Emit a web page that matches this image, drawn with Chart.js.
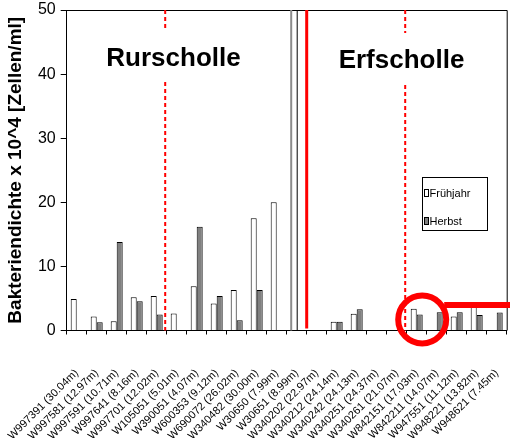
<!DOCTYPE html>
<html>
<head>
<meta charset="utf-8">
<script src="https://cdn.jsdelivr.net/npm/chart.js@4/dist/chart.umd.min.js"></script>
<style>
html,body{margin:0;padding:0;background:#fff;}
#wrap{width:510px;height:438px;position:relative;}
</style>
</head>
<body>
<div id="wrap"><canvas id="c" width="510" height="438"></canvas></div>
<script>
const categories = ["W997391 (30.04m)", "W997581 (12.97m)", "W997591 (10.71m)", "W997641 (8.16m)", "W997701 (12.02m)", "W105051 (5.01m)", "W390051 (4.07m)", "W600353 (9.12m)", "W690072 (26.02m)", "W340482 (30.00m)", "W30650 (7.99m)", "W30651 (8.99m)", "W340202 (22.97m)", "W340212 (24.14m)", "W340242 (24.13m)", "W340251 (24.37m)", "W340261 (21.07m)", "W842151 (17.03m)", "W842211 (14.07m)", "W947551 (11.12m)", "W948221 (13.82m)", "W948621 (7.45m)"];
const fruehjahr = [4.9, 2.2, 1.45, 5.2, 5.4, 2.65, 6.9, 4.2, 6.3, 17.5, 20.0, null, null, 1.35, 2.6, null, null, 3.4, null, 2.2, 3.8, null];
const herbst = [null, 1.3, 13.8, 4.55, 2.5, null, 16.2, 5.4, 1.6, 6.3, null, null, null, 1.35, 3.3, null, null, 2.5, 2.85, 2.85, 2.4, 2.8];
const yTicks = [0, 10, 20, 30, 40, 50];
const regionLabels = ["Rurscholle", "Erfscholle"];
const seriesNames = ["Frühjahr", "Herbst"];

const SANS = "'Liberation Sans', Arial, sans-serif";

const overlay = {
  id: 'overlay',
  afterDatasetsDraw(chart) {
    const ctx = chart.ctx;
    const a = chart.chartArea;
    const x = chart.scales.x;
    const cw = x.getPixelForValue(1) - x.getPixelForValue(0);
    const bound = i => x.getPixelForValue(i) - cw / 2;
    ctx.save();
    ctx.strokeStyle = '#000'; ctx.lineWidth = 1;
    ctx.beginPath();
    ctx.moveTo(a.left, a.top + 0.5); ctx.lineTo(a.right + 0.5, a.top + 0.5);
    ctx.lineTo(a.right + 0.5, a.bottom);
    ctx.stroke();
    ctx.strokeStyle = '#8c8c8c'; ctx.lineWidth = 2;
    ctx.beginPath(); ctx.moveTo(bound(11) + 4.5, a.top); ctx.lineTo(bound(11) + 4.5, a.bottom); ctx.stroke();
    ctx.strokeStyle = '#000'; ctx.lineWidth = 1;
    ctx.beginPath(); ctx.moveTo(bound(11) + 10.5, a.top); ctx.lineTo(bound(11) + 10.5, a.bottom); ctx.stroke();
    ctx.strokeStyle = '#ff0000'; ctx.lineWidth = 3;
    ctx.beginPath(); ctx.moveTo(bound(12), a.top); ctx.lineTo(bound(12), a.bottom - 2); ctx.stroke();
    ctx.lineWidth = 2; ctx.setLineDash([4, 3]);
    const dash = (xx, g1, g2) => {
      ctx.beginPath(); ctx.moveTo(xx, a.top); ctx.lineTo(xx, g1);
      ctx.moveTo(xx, g2); ctx.lineTo(xx, a.bottom); ctx.stroke();
    };
    dash(bound(5) - 1.5, 31, 82);
    dash(bound(17) - 1.5, 33, 85);
    ctx.setLineDash([]);
    ctx.fillStyle = '#000';
    ctx.font = 'bold 26px ' + SANS;
    ctx.textAlign = 'center'; ctx.textBaseline = 'alphabetic';
    ctx.fillText(regionLabels[0], 173.5, 66);
    ctx.fillText(regionLabels[1], 401.5, 68);
    ctx.lineWidth = 1; ctx.strokeStyle = '#000';
    ctx.strokeRect(422.5, 177.5, 65, 53);
    ctx.fillStyle = '#fff'; ctx.fillRect(424.5, 189.5, 4, 7); ctx.strokeRect(424.5, 189.5, 4, 7);
    ctx.fillStyle = '#808080'; ctx.fillRect(424.5, 217.5, 4, 7); ctx.strokeRect(424.5, 217.5, 4, 7);
    ctx.fillStyle = '#000'; ctx.font = '11px ' + SANS; ctx.textAlign = 'left';
    ctx.fillText(seriesNames[0], 429.5, 197);
    ctx.fillText(seriesNames[1], 429.5, 225);
    ctx.strokeStyle = '#ff0000'; ctx.lineWidth = 6;
    const cx = x.getPixelForValue(17) + 5.5;
    ctx.beginPath(); ctx.arc(cx, 319.5, 24, 0, Math.PI * 2); ctx.stroke();
    ctx.beginPath(); ctx.moveTo(cx + 22, 305); ctx.lineTo(510, 305); ctx.stroke();
    ctx.restore();
  }
};

new Chart(document.getElementById('c'), {
  type: 'bar',
  data: {
    labels: categories,
    datasets: [
      { label: seriesNames[0], data: fruehjahr, backgroundColor: '#ffffff', borderColor: '#000000', borderWidth: 1, categoryPercentage: 0.6, barPercentage: 1.0 },
      { label: seriesNames[1], data: herbst, backgroundColor: '#808080', borderColor: '#000000', borderWidth: 1, categoryPercentage: 0.6, barPercentage: 1.0 }
    ]
  },
  options: {
    responsive: false,
    animation: false,
    layout: { padding: { top: 10, right: 3.3, left: 0, bottom: 0 } },
    plugins: { legend: { display: false }, tooltip: { enabled: false } },
    scales: {
      x: {
        grid: { display: true, drawOnChartArea: false, drawTicks: true, tickLength: 4, color: '#000', offset: true },
        border: { display: true, color: '#000', width: 1 },
        ticks: { color: '#000', font: { family: SANS, size: 11 }, minRotation: 45, maxRotation: 45, autoSkip: false, padding: 32 },
        afterFit: s => { s.height = 107.5; s.paddingLeft = 0; s.paddingRight = 0; }
      },
      y: {
        min: 0, max: 50,
        afterBuildTicks: s => { s.ticks = yTicks.map(v => ({ value: v })); },
        grid: { display: true, drawOnChartArea: false, drawTicks: true, tickLength: 6, color: '#000' },
        border: { display: true, color: '#000', width: 1 },
        ticks: { color: '#000', font: { family: SANS, size: 16 }, padding: 5 },
        title: { display: true, text: 'Bakteriendichte x 10^4 [Zellen/ml]', color: '#000', font: { family: SANS, size: 19, weight: 'bold' }, padding: { top: 4, bottom: 0 } },
        afterFit: s => { s.width = 66.7; s.paddingTop = 0; s.paddingBottom = 0; }
      }
    }
  },
  plugins: [overlay]
});
</script>
</body>
</html>
